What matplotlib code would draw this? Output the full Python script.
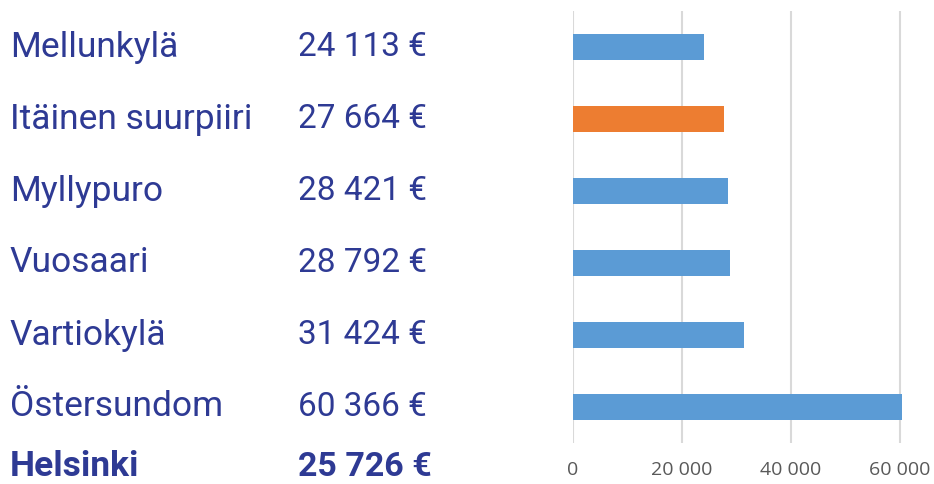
import matplotlib
matplotlib.use("Agg")
import matplotlib.pyplot as plt

categories = ["Mellunkylä", "Itäinen suurpiiri", "Myllypuro", "Vuosaari", "Vartiokylä", "Östersundom"]
values = [24113, 27664, 28421, 28792, 31424, 60366]
value_labels = ["24 113 €", "27 664 €", "28 421 €", "28 792 €", "31 424 €", "60 366 €"]
highlight = "Itäinen suurpiiri"
total_label = "Helsinki"
total_value_label = "25 726 €"
xticks = [0, 20000, 40000, 60000]
xtick_labels = ["0", "20 000", "40 000", "60 000"]

W, H = 934, 484
fig = plt.figure(figsize=(W / 100, H / 100), dpi=100)
plt.rcParams['font.family'] = ['Roboto', 'DejaVu Sans']

ax_left, ax_right = 573, 934
ax_top, ax_bottom = 11, 443
ax = fig.add_axes([ax_left / W, 1 - ax_bottom / H, (ax_right - ax_left) / W, (ax_bottom - ax_top) / H])

px_per_unit = 109 / 20000
xmax = (ax_right - ax_left) / px_per_unit
colors = ["#ED7D31" if c == highlight else "#5B9BD5" for c in categories]
ypos = list(range(len(categories)))
ax.barh(ypos, values, height=0.36, color=colors, zorder=3)
ax.set_ylim(len(categories) - 0.5, -0.5)
ax.set_xlim(0, xmax)
ax.set_xticks(xticks)
ax.set_xticklabels(xtick_labels, color="#595959", fontsize=14, family=["Open Sans", "DejaVu Sans"])
ax.set_yticks([])
ax.grid(axis="x", color="#D9D9D9", linewidth=1.5, zorder=0)
for s in ax.spines.values():
    s.set_visible(False)
ax.tick_params(axis="x", length=0, pad=13)

text_color = "#2E3A94"
for i, (c, v) in enumerate(zip(categories, value_labels)):
    yc = 47 + 72 * i
    fig.text(10 / W, 1 - yc / H, c, fontsize=25.5, color=text_color, va="center", ha="left")
    fig.text(298 / W, 1 - yc / H, v, fontsize=24, color=text_color, va="center", ha="left")
fig.text(10 / W, 1 - 476 / H, total_label, fontsize=25.5, color=text_color, va="baseline", ha="left", fontweight="bold")
fig.text(298 / W, 1 - 476 / H, total_value_label, fontsize=24.5, color=text_color, va="baseline", ha="left", fontweight="bold")

fig.savefig("out.png", dpi=100)
